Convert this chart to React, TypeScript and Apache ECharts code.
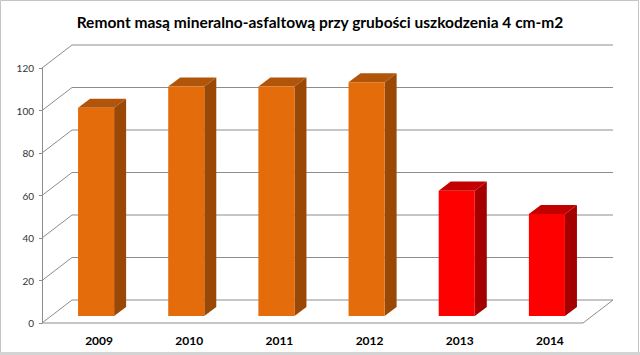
import React, { useEffect, useRef } from "react";
import * as echarts from "echarts";

const categories = ["2009", "2010", "2011", "2012", "2013", "2014"];
const values = [98, 108, 108, 110, 59, 48];
const colorGroup = [0, 0, 0, 0, 1, 1];
const yTicks = [0, 20, 40, 60, 80, 100, 120];
const titleText = "Remont masą mineralno-asfaltową przy grubości uszkodzenia 4 cm-m2";

const palettes = [
  { front: "#E46C0A", top: "#B0550A", side: "#9A4806" },
  { front: "#FF0000", top: "#C20000", side: "#A50000" },
];

const DEPTH_X = 30;
const DEPTH_Y = 23;
const F1 = 0.3;
const F2 = 0.7;

export default function App() {
  const ref = useRef<HTMLDivElement>(null);
  useEffect(() => {
    if (!ref.current) return;
    const chart = echarts.init(ref.current, null, { renderer: "svg" });
    const option: any = {
      animation: false,
      backgroundColor: "#ffffff",
      title: {
        text: titleText,
        left: "center",
        top: 9,
        textStyle: { fontFamily: "Lato", fontWeight: "bold", fontSize: 15.5, color: "#000" },
      },
      grid: { left: 42, top: 68, width: 541, height: 255, containLabel: false },
      xAxis: {
        type: "category",
        data: categories,
        axisLine: { show: false },
        axisTick: { show: false },
        splitLine: { show: false },
        axisLabel: {
          margin: 11,
          padding: [0, 0, 0, 24],
          fontFamily: "Lato",
          fontWeight: "bold",
          fontSize: 12,
          color: "#000",
        },
      },
      yAxis: {
        type: "value",
        min: 0,
        max: 120,
        interval: 20,
        axisLine: { show: true, lineStyle: { color: "#8c8c8c", width: 1 } },
        axisTick: { show: true, length: 3, lineStyle: { color: "#8c8c8c" } },
        splitLine: { show: false },
        axisLabel: { margin: 8, fontFamily: "Lato", fontSize: 10, color: "#333" },
      },
      graphic: [
        {
          type: "rect",
          shape: { x: 0.5, y: 0.5, width: 638, height: 352 },
          style: { fill: "none", stroke: "#c4c4c4", lineWidth: 1 },
          silent: true,
        },
        {
          type: "rect",
          shape: { x: 0, y: 352, width: 640, height: 3 },
          style: { fill: "#d4d4d4" },
          silent: true,
        },
      ],
      series: [
        {
          type: "custom",
          z: 1,
          silent: true,
          data: yTicks.map((v) => [0, v]),
          renderItem: (params: any, api: any) => {
            const v = api.value(1);
            const cs = params.coordSys;
            const y = api.coord([0, v])[1];
            const x0 = cs.x;
            const x1 = cs.x + cs.width;
            const st = { stroke: "#8c8c8c", lineWidth: 1, fill: "none" };
            const children: any[] = [
              {
                type: "polyline",
                shape: {
                  points: [
                    [x0, y],
                    [x0 + DEPTH_X, y - DEPTH_Y],
                    [x1 + DEPTH_X, y - DEPTH_Y],
                  ],
                },
                style: st,
              },
            ];
            if (v === 0) {
              children.push({
                type: "polyline",
                shape: {
                  points: [
                    [x0, y],
                    [x1, y],
                    [x1 + DEPTH_X, y - DEPTH_Y],
                  ],
                },
                style: st,
              });
            }
            return { type: "group", children };
          },
        },
        {
          type: "custom",
          z: 2,
          silent: true,
          data: values.map((v, i) => [i, v, colorGroup[i]]),
          renderItem: (params: any, api: any) => {
            const i = api.value(0);
            const v = api.value(1);
            const pal = palettes[api.value(2)];
            const top = api.coord([i, v]);
            const base = api.coord([i, 0]);
            const band = api.size([1, 0])[0];
            const bw = band * 0.4;
            const fx = DEPTH_X * F1;
            const fy = DEPTH_Y * F1;
            const dx = DEPTH_X * (F2 - F1);
            const dy = DEPTH_Y * (F2 - F1);
            const xl = top[0] - bw / 2 + fx;
            const xr = xl + bw;
            const yt = top[1] - fy;
            const yb = base[1] - fy;
            return {
              type: "group",
              children: [
                {
                  type: "polygon",
                  shape: { points: [[xr, yt], [xr + dx, yt - dy], [xr + dx, yb - dy], [xr, yb]] },
                  style: { fill: pal.side },
                },
                {
                  type: "polygon",
                  shape: { points: [[xl, yt], [xr, yt], [xr + dx, yt - dy], [xl + dx, yt - dy]] },
                  style: { fill: pal.top },
                },
                {
                  type: "rect",
                  shape: { x: xl, y: yt, width: bw, height: yb - yt },
                  style: { fill: pal.front },
                },
              ],
            };
          },
        },
      ],
    };
    chart.setOption(option);
    return () => chart.dispose();
  }, []);
  return (
    <div
      ref={ref}
      style={{ position: "fixed", left: 0, top: 0, width: 640, height: 355 }}
    />
  );
}
